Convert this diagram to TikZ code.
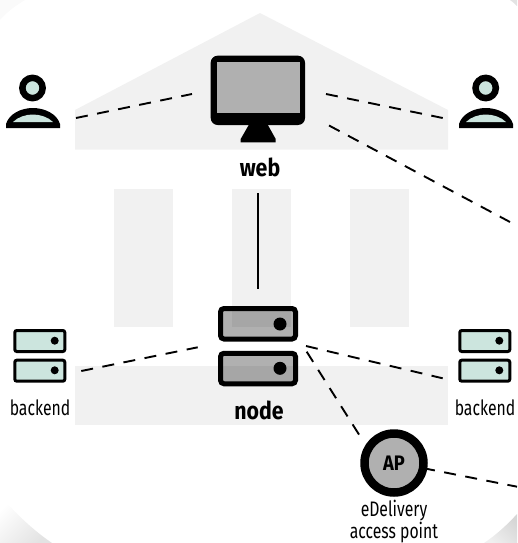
\documentclass[tikz,border=0pt]{standalone}
\usepackage{fontspec}
\setmainfont{Fira Sans}[FakeStretch=0.75]
\newfontfamily\lblb{Fira Sans}[FakeStretch=0.87]
\usetikzlibrary{calc}
\definecolor{shadeL}{HTML}{F1F1F1}
\definecolor{screenG}{HTML}{B0B0B0}
\definecolor{mintF}{HTML}{CCE5DE}
\tikzset{
  x=1pt,y=-1pt,
  temple/.style={fill=shadeL,draw=none},
  conn/.style={line width=1.9pt,dash pattern=on 12pt off 9.5pt,black},
  plainlink/.style={line width=1.2pt,black},
  monitorbox/.style={rectangle,rounded corners=7pt,fill=black,inner sep=0pt,outer sep=0pt,minimum width=94.3pt,minimum height=69.3pt},
  screenbox/.style={fill=screenG,draw=none},
  nodesrv/.style={rectangle,rounded corners=3.5pt,draw=black,line width=5pt,fill=black,fill opacity=.31,draw opacity=1,inner sep=0pt,outer sep=0pt,minimum width=75pt,minimum height=30.5pt},
  backsrv/.style={rectangle,rounded corners=2pt,draw=black,line width=3pt,fill=mintF,inner sep=0pt,outer sep=0pt,minimum width=50pt,minimum height=21pt},
  headring/.style={circle,draw=black,line width=6.5pt,fill=mintF,inner sep=0pt,outer sep=0pt,minimum size=20.3pt},
  apring/.style={circle,draw=black,line width=8.5pt,fill=screenG,inner sep=0pt,outer sep=0pt,minimum size=59pt,font=\fontsize{21}{21}\selectfont\lblb\bfseries},
  smalllabel/.style={font=\fontsize{21}{19}\selectfont,inner sep=0pt,align=center},
  biglabel/.style={font=\fontsize{24.5}{25}\selectfont\lblb\bfseries,inner sep=0pt},
  dotn/.style={fill=black,draw=none}
}
\begin{document}
\begin{tikzpicture}
\useasboundingbox (0,0) rectangle (517,543);
\clip (0,0) rectangle (517,543);
% corners
\fill[shadeL!35] (0,20) .. controls (7,12) and (15,6) .. (25,0) -- (0,0) -- cycle;
\fill[gray!22] (510,0) .. controls (513,2) and (515,4) .. (517,6) -- (517,0) -- cycle;
\shade[left color=white,right color=gray!22,shading angle=45] (0,495) .. controls (16,514) and (33,530) .. (52,543) -- (0,543) -- cycle;
\shade[left color=gray!32,right color=gray!12,shading angle=315] (517,514) .. controls (507,525) and (496,535) .. (484,543) -- (517,543) -- cycle;
% temple
\fill[temple] (260,13) -- (448,110) -- (448,149.7) -- (75,149.7) -- (75,110) -- cycle;
\fill[temple] (114,189) rectangle (173,327);
\fill[temple] (232,189) rectangle (291,327);
\fill[temple] (350,189) rectangle (409,327);
\fill[temple] (75,366) rectangle (448,425);
% web monitor
\node[monitorbox] (web) at (257.85,90.35) {};
\fill[screenbox] (216.7,61.7) rectangle (300,112.7);
\fill[black] (249.3,124) -- (267.3,124) -- (275.7,139) -- (275.7,142.3) -- (240.7,142.3) -- (240.7,139) -- cycle;
\node[biglabel] (weblabel) at (260,167.5) {web};
% users
\node[headring] (userL) at (32.5,88) {};
\fill[black] (6,128) -- (6,124) .. controls (9,114) and (21,108) .. (32.7,108) .. controls (45,108) and (57,114) .. (60,124) -- (60,128) -- cycle;
\fill[mintF] (13,122) .. controls (18,117) and (26,114.5) .. (32.7,114.5) .. controls (40,114.5) and (48,117) .. (53,122) -- cycle;
\node[headring] (userR) at (485.7,88) {};
\fill[black] (459,128) -- (459,124) .. controls (462,114) and (474,108) .. (485.7,108) .. controls (498,108) and (510,114) .. (513,124) -- (513,128) -- cycle;
\fill[mintF] (466,122) .. controls (471,117) and (479,114.5) .. (485.7,114.5) .. controls (493,114.5) and (501,117) .. (506,122) -- cycle;
% node servers
\node[nodesrv] (nodeA) at (258,323.75) {};
\node[nodesrv] (nodeB) at (258,368.5) {};
\fill[dotn] (280,324) circle (6.5);
\fill[dotn] (280,368.3) circle (6.5);
\node[biglabel] (nodelabel) at (259,410.5) {node};
% backends
\node[backsrv] (backLa) at (39.8,341) {};
\node[backsrv] (backLb) at (39.8,370.7) {};
\fill[dotn] (54.7,340.7) circle (4);
\fill[dotn] (54.7,370.3) circle (4);
\node[smalllabel] (backLlabel) at (40,407.5) {backend};
\node[backsrv] (backRa) at (484.8,341) {};
\node[backsrv] (backRb) at (484.8,370.7) {};
\fill[dotn] (499.3,340.7) circle (4);
\fill[dotn] (499.3,370.3) circle (4);
\node[smalllabel] (backRlabel) at (485,407.5) {backend};
% AP
\node[apring] (ap) at (394,463) {AP};
\node[smalllabel] (aplabel) at (394,521.5) {eDelivery\\access point};
% free ends
\coordinate (farA) at (510,222);
\coordinate (farB) at (517,486.7);
% connectors
\draw[conn] ([shift={(43.5,30)}]userL.center) -- ([shift={(-65.85,3.65)}]web.center);
\draw[conn] ([shift={(68.15,3.65)}]web.center) -- ([shift={(-43,30)}]userR.center);
\draw[conn] ([shift={(71.15,35.15)}]web.center) -- (farA);
\draw[plainlink] ([shift={(.15,102.65)}]web.center) -- ([shift={(0,-34.75)}]nodeA.center);
\draw[conn] ([shift={(41.5,.3)}]backLb.center) -- ([shift={(-60.3,-21.2)}]nodeB.center);
\draw[conn] ([shift={(48,-22.5)}]nodeB.center) -- ([shift={(-42.1,7.6)}]backRb.center);
\draw[conn] ([shift={(48.7,-16.8)}]nodeB.center) -- ([shift={(-34.7,-28)}]ap.center);
\draw[conn] (ap.-10) -- (farB);
\end{tikzpicture}
\end{document}
